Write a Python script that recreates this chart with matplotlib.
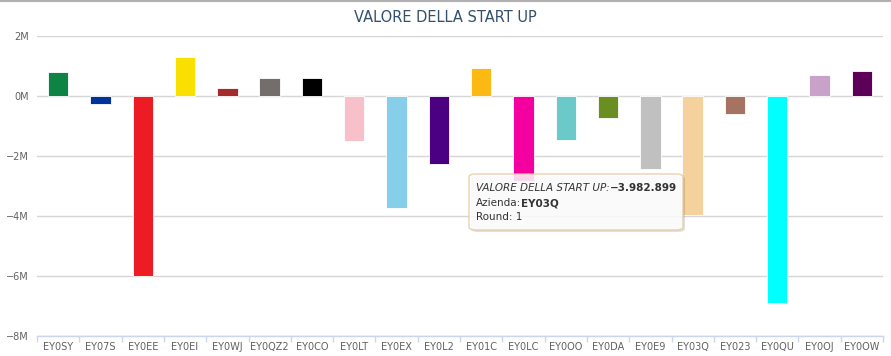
import matplotlib
matplotlib.use('Agg')
import matplotlib.pyplot as plt
import matplotlib.patches as patches
from matplotlib.lines import Line2D
from matplotlib.ticker import FuncFormatter, FixedLocator
import numpy as np

# data
aziende = ['EY0SY', 'EY07S', 'EY0EE', 'EY0EI', 'EY0WJ', 'EY0QZ2', 'EY0CO',
           'EY0LT', 'EY0EX', 'EY0L2', 'EY01C', 'EY0LC', 'EY0OO', 'EY0DA',
           'EY0E9', 'EY03Q', 'EY023', 'EY0QU', 'EY0OJ', 'EY0OW']
valori = [800000, -250000, -6000000, 1300000, 260000, 590000, 590000,
          -1510000, -3730000, -2250000, 920000, -2820000, -1450000, -730000,
          -2430000, -3982899, -590000, -6900000, 700000, 830000]
colori = ['#0e8444', '#003399', '#ed1c24', '#f9e000', '#a52a2a', '#736d6b',
          '#000000', '#f8c0cb', '#87ceeb', '#4b0082', '#fdb913', '#f400a1',
          '#6cc9c9', '#6b8e23', '#c0c0c0', '#f5d19e', '#a67363', '#00ffff',
          '#c8a2c8', '#5c0058']
y_ticks = [-8e6, -6e6, -4e6, -2e6, 0, 2e6]
titolo = 'VALORE DELLA START UP'
tooltip_azienda = 'EY03Q'
tooltip_round = 1

W, H = 891, 356
fig = plt.figure(figsize=(W / 100, H / 100), dpi=100)
ax = fig.add_axes([37 / W, 1 - 336 / H, (883 - 37) / W, 300 / H])

x = np.arange(len(aziende))
ax.bar(x, valori, width=0.48, color=colori, edgecolor='white',
       linewidth=0.6, zorder=3)

ax.set_xlim(-0.5, len(aziende) - 0.5)
ax.set_ylim(-8e6, 2e6)
ax.set_yticks(y_ticks)
ax.yaxis.set_major_formatter(FuncFormatter(
    lambda v, p: f"{int(v / 1e6)}M".replace('-', '\u2212')))
ax.grid(axis='y', color='#d6d6d6', linewidth=1, zorder=0)
ax.set_axisbelow(True)

ax.set_xticks(x)
ax.set_xticklabels(aziende)
ax.xaxis.set_minor_locator(FixedLocator(np.arange(-0.5, len(aziende), 1)))
ax.tick_params(axis='x', which='major', length=0, pad=4,
               labelsize=7, labelcolor='#606060')
ax.tick_params(axis='x', which='minor', length=4, color='#ccd6eb', width=1)
ax.tick_params(axis='y', length=0, pad=6, labelsize=7, labelcolor='#606060')

for s in ['top', 'right', 'left']:
    ax.spines[s].set_visible(False)
ax.spines['bottom'].set_color('#ccd6eb')
ax.spines['bottom'].set_linewidth(1)

fig.text(445 / W, 1 - 18 / H, titolo, ha='center', va='center',
         fontsize=10.5, color='#34506e')

# container border at top
fig.add_artist(Line2D([0, 1], [1 - 1 / H, 1 - 1 / H], color='#b0b0b0',
                      linewidth=1.5, transform=fig.transFigure))

# tooltip
tx0, ty0, tx1, ty1 = 469, 174, 683, 230
shadow = patches.FancyBboxPatch(
    ((tx0 + 2) / W, 1 - (ty1 + 2) / H), (tx1 - tx0) / W, (ty1 - ty0) / H,
    boxstyle='round,pad=0,rounding_size=0.008', transform=fig.transFigure,
    facecolor='#000000', edgecolor='none', alpha=0.12)
box = patches.FancyBboxPatch(
    (tx0 / W, 1 - ty1 / H), (tx1 - tx0) / W, (ty1 - ty0) / H,
    boxstyle='round,pad=0,rounding_size=0.008', transform=fig.transFigure,
    facecolor='white', edgecolor='#e6c9a0', linewidth=1, alpha=0.85)
fig.add_artist(shadow)
fig.add_artist(box)

val = valori[aziende.index(tooltip_azienda)]
val_txt = f"{val:,}".replace(',', '.').replace('-', '\u2212')
fs = 7.5
col = '#333333'
renderer = fig.canvas.get_renderer()


def tooltip_line(parts, y):
    xpos = 476
    for txt, style, weight in parts:
        t = fig.text(xpos / W, 1 - y / H, txt, ha='left', va='center',
                     fontsize=fs, color=col, style=style, weight=weight)
        xpos += t.get_window_extent(renderer).width


tooltip_line([(titolo + ':', 'italic', 'normal'),
              (val_txt, 'normal', 'bold')], 188)
tooltip_line([('Azienda:', 'normal', 'normal'),
              (tooltip_azienda, 'normal', 'bold')], 203)
tooltip_line([(f'Round: {tooltip_round}', 'normal', 'normal')], 217)

fig.savefig('out.png', dpi=100)
